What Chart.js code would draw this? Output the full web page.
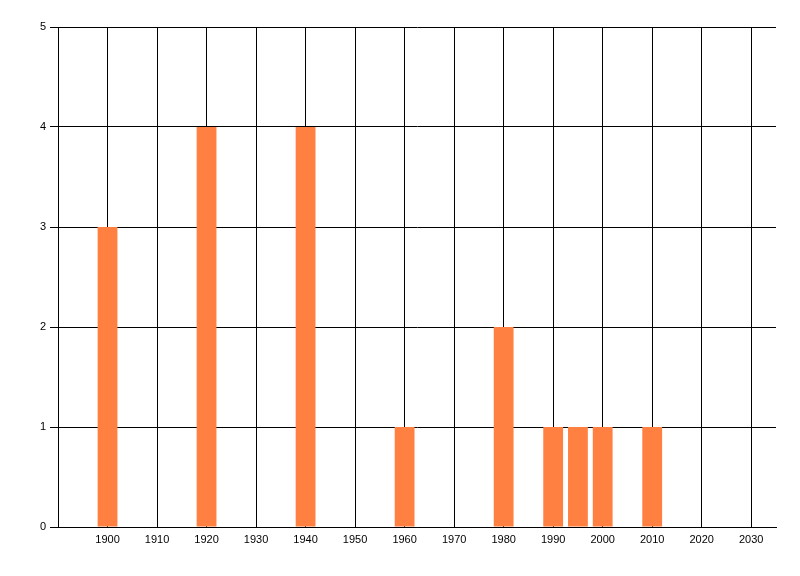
<!DOCTYPE html>
<html>
<head>
<meta charset="utf-8">
<script src="https://cdn.jsdelivr.net/npm/chart.js@4/dist/chart.umd.min.js"></script>
<style>
  html, body { margin: 0; padding: 0; background: #fff; }
  #wrap { width: 800px; height: 576px; }
</style>
</head>
<body>
<div id="wrap"><canvas id="chart" width="800" height="576"></canvas></div>
<script>
// Data
const years  = [1900, 1920, 1940, 1960, 1980, 1990, 1995, 2000, 2010];
const counts = [3, 4, 4, 1, 2, 1, 1, 1, 1];
const xTicks = [1890, 1900, 1910, 1920, 1930, 1940, 1950, 1960, 1970, 1980, 1990, 2000, 2010, 2020, 2030];
const yTicks = [0, 1, 2, 3, 4, 5];

const BAR  = '#FF8040';
const LINE = '#000000';
const FONT = { family: 'Liberation Sans, Arial, sans-serif', size: 11 };

new Chart(document.getElementById('chart'), {
  type: 'bar',
  data: {
    datasets: [{
      data: years.map((y, i) => ({ x: y, y: counts[i] })),
      backgroundColor: BAR,
      borderWidth: 0,
      barPercentage: 1,
      categoryPercentage: 0.8,
    }],
  },
  options: {
    responsive: false,
    animation: false,
    layout: { padding: { left: 0, right: 24, top: 27, bottom: 0 } },
    plugins: { legend: { display: false }, tooltip: { enabled: false } },
    scales: {
      x: {
        type: 'linear',
        offset: false,
        min: 1890,
        max: 2035,
        afterBuildTicks: s => { s.ticks = xTicks.map(v => ({ value: v })); },
        afterFit: s => { s.height = 49; },
        ticks: {
          color: LINE,
          font: FONT,
          padding: 6,
          maxRotation: 0,
          autoSkip: false,
          callback: v => (v === 1890 ? '' : String(v)),
        },
        grid: { color: LINE, lineWidth: 1, drawTicks: false, offset: false },
        border: { color: LINE, width: 1 },
      },
      y: {
        min: 0,
        max: 5,
        afterBuildTicks: s => { s.ticks = yTicks.map(v => ({ value: v })); },
        afterFit: s => { s.width = 58; },
        ticks: { color: LINE, font: FONT, padding: 4 },
        grid: { color: LINE, lineWidth: 1, tickLength: 8 },
        border: { color: LINE, width: 1 },
      },
    },
  },
});
</script>
</body>
</html>
